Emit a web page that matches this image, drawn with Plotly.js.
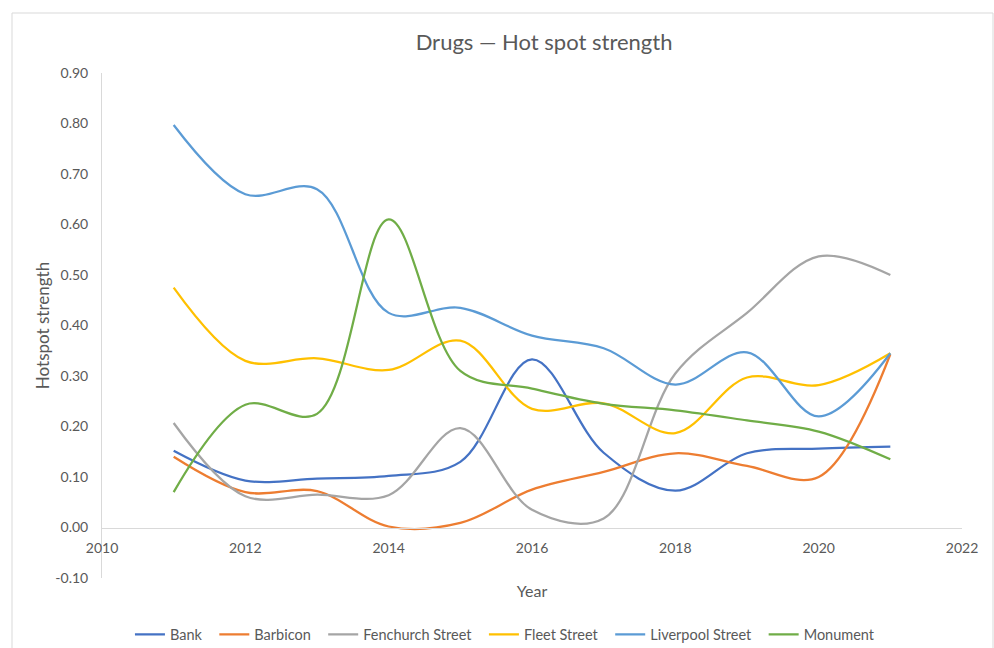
<!DOCTYPE html>
<html>
<head>
<meta charset="utf-8">
<script src="https://cdn.plot.ly/plotly-3.0.1.min.js"></script>
<style>html,body{margin:0;padding:0;background:#fff;}#chart{width:994px;height:648px;}</style>
</head>
<body>
<div id="chart"></div>
<script>
const years = [2011, 2012, 2013, 2014, 2015, 2016, 2017, 2018, 2019, 2020, 2021];
const bank = [0.152, 0.093, 0.097, 0.102, 0.130, 0.333, 0.148, 0.073, 0.147, 0.156, 0.160];
const barbicon = [0.140, 0.070, 0.072, 0.002, 0.009, 0.075, 0.110, 0.147, 0.122, 0.100, 0.343];
const fenchurch = [0.207, 0.062, 0.065, 0.064, 0.197, 0.035, 0.018, 0.305, 0.425, 0.537, 0.500];
const fleet = [0.475, 0.330, 0.335, 0.312, 0.370, 0.235, 0.246, 0.187, 0.297, 0.282, 0.345];
const liverpool = [0.797, 0.660, 0.670, 0.425, 0.435, 0.380, 0.355, 0.283, 0.347, 0.220, 0.345];
const monument = [0.070, 0.243, 0.225, 0.610, 0.310, 0.275, 0.245, 0.232, 0.212, 0.190, 0.135];
const seriesNames = ["Bank", "Barbicon", "Fenchurch Street", "Fleet Street", "Liverpool Street", "Monument"];
const seriesValues = [bank, barbicon, fenchurch, fleet, liverpool, monument];
const colors = ["#4472C4", "#ED7D31", "#A5A5A5", "#FFC000", "#5B9BD5", "#70AD47"];
const xTicks = [2010, 2012, 2014, 2016, 2018, 2020, 2022];
const yTicks = [-0.1, 0, 0.1, 0.2, 0.3, 0.4, 0.5, 0.6, 0.7, 0.8, 0.9];

const font = "Lato, 'Noto Sans', sans-serif";
const pad = "\u00a0\u00a0";
const traces = seriesNames.map((n, i) => ({
  x: years, y: seriesValues[i], name: i < seriesNames.length - 1 ? n + pad : n,
  type: "scatter", mode: "lines",
  line: {color: colors[i], width: 2.25, shape: "spline", smoothing: 1}
}));

const layout = {
  width: 994, height: 648,
  margin: {l: 102, r: 32, t: 73, b: 70},
  paper_bgcolor: "#fff", plot_bgcolor: "#fff",
  font: {family: font, color: "#595959", size: 14},
  title: {text: "Drugs — Hot spot strength", font: {size: 22, color: "#595959", family: font},
          x: 0.514, xref: "paper", xanchor: "center", y: 0.934, yref: "container", yanchor: "middle"},
  showlegend: true,
  legend: {orientation: "h", xref: "container", x: 0.508, xanchor: "center", yref: "container", y: 0.021, yanchor: "middle",
           font: {size: 14.5, color: "#595959", family: font}, tracegroupgap: 0},
  xaxis: {range: [2010, 2022], tickvals: xTicks, ticktext: xTicks.map(String), anchor: "free", position: 0.1,
          showgrid: false, zeroline: false, showline: true, linecolor: "#d9d9d9", linewidth: 1,
          ticks: "", ticklabelstandoff: 8, tickfont: {size: 14, color: "#595959"},
          title: {text: "Year", font: {size: 16, color: "#595959"}, standoff: 30}},
  yaxis: {range: [-0.1, 0.9], tickvals: yTicks, ticktext: yTicks.map(v => v.toFixed(2)),
          showgrid: false, zeroline: false, showline: true, linecolor: "#d9d9d9", linewidth: 1,
          ticks: "", ticklabelstandoff: 10, tickfont: {size: 14, color: "#595959"},
          title: {text: "Hotspot strength", font: {size: 17, color: "#595959"}, standoff: 1}},
  shapes: [{type: "rect", xref: "paper", yref: "paper",
            x0: -90/860, x1: 1 + 31/860, y0: -80/505, y1: 1 + 60/505,
            line: {color: "#d9d9d9", width: 1}, fillcolor: "rgba(0,0,0,0)", layer: "below"}]
};
Plotly.newPlot("chart", traces, layout, {staticPlot: true, displayModeBar: false});
</script>
</body>
</html>
